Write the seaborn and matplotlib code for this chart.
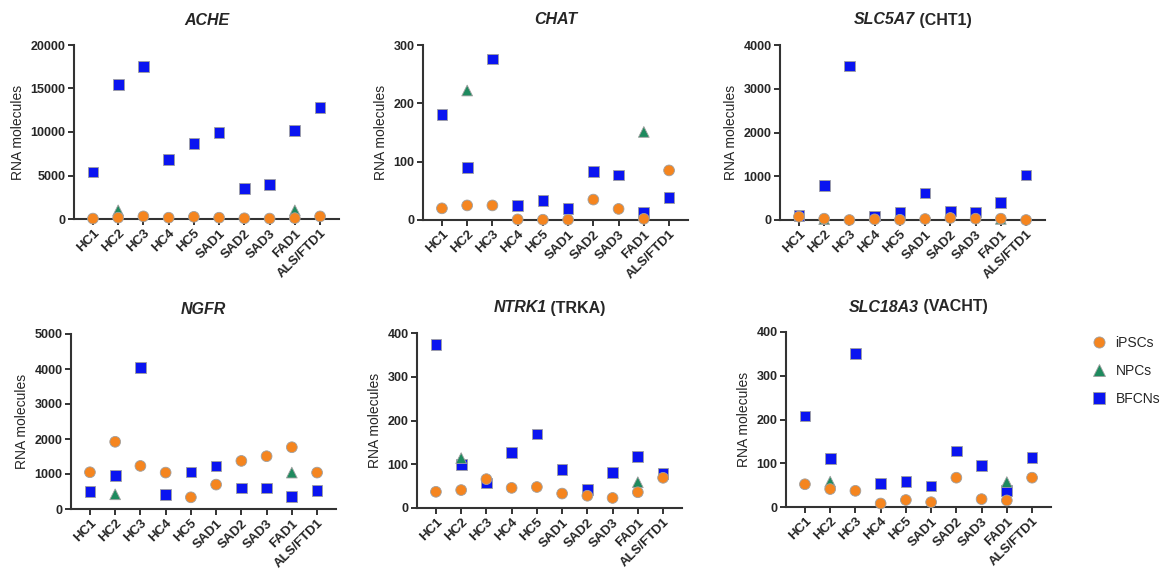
import numpy as np
import pandas as pd
import seaborn as sns
import matplotlib.pyplot as plt

lines = ['HC1', 'HC2', 'HC3', 'HC4', 'HC5', 'SAD1', 'SAD2', 'SAD3', 'FAD1', 'ALS/FTD1']
nan = np.nan

# RNA molecules per gene, one list per cell type (NPCs only measured for HC2 and FAD1)
ache_ipsc = [50, 150, 300, 150, 250, 150, 80, 50, 100, 300]
ache_npc = [nan, 1000, nan, nan, nan, nan, nan, nan, 1000, nan]
ache_bfcn = [5400, 15500, 17500, 6800, 8700, 9950, 3500, 3950, 10200, 12850]

chat_ipsc = [20, 25, 25, 1, 0.5, 0.5, 35, 19, 2, 85]
chat_npc = [nan, 222, nan, nan, nan, nan, nan, nan, 151, nan]
chat_bfcn = [181, 90, 276, 25, 34, 20, 83, 77, 13, 39]

cht1_ipsc = [76, 30, 0, 15, 5, 23, 46, 30, 30, 0]
cht1_npc = [nan, 20, nan, nan, nan, nan, nan, nan, 25, nan]
cht1_bfcn = [107, 792, 3520, 91, 168, 617, 206, 183, 404, 1029]

ngfr_ipsc = [1050, 1920, 1231, 1040, 334, 697, 1374, 1508, 1765, 1040]
ngfr_npc = [nan, 420, nan, nan, nan, nan, nan, nan, 1040, nan]
ngfr_bfcn = [496, 964, 4036, 410, 1059, 1231, 601, 601, 353, 525]

trka_ipsc = [37, 41, 66, 46, 48, 33, 28, 23, 36, 69]
trka_npc = [nan, 114, nan, nan, nan, nan, nan, nan, 59, nan]
trka_bfcn = [373, 100, 57, 126, 169, 88, 43, 82, 117, 78]

vacht_ipsc = [52, 41, 37, 8, 16, 11, 67, 18, 15, 67]
vacht_npc = [nan, 58, nan, nan, nan, nan, nan, nan, 57, nan]
vacht_bfcn = [208, 111, 350, 53, 58, 48, 128, 95, 37, 113]

panels = [
    ('ACHE', '', ache_ipsc, ache_npc, ache_bfcn, 20000, 5000),
    ('CHAT', '', chat_ipsc, chat_npc, chat_bfcn, 300, 100),
    ('SLC5A7', ' (CHT1)', cht1_ipsc, cht1_npc, cht1_bfcn, 4000, 1000),
    ('NGFR', '', ngfr_ipsc, ngfr_npc, ngfr_bfcn, 5000, 1000),
    ('NTRK1', ' (TRKA)', trka_ipsc, trka_npc, trka_bfcn, 400, 100),
    ('SLC18A3', ' (VACHT)', vacht_ipsc, vacht_npc, vacht_bfcn, 400, 100),
]

sns.set_style('ticks')
plt.rcParams['font.family'] = ['Liberation Sans', 'DejaVu Sans']

palette = {'iPSCs': '#F5851F', 'NPCs': '#1E8A5E', 'BFCNs': '#0A14F0'}
markers = {'iPSCs': 'o', 'NPCs': '^', 'BFCNs': 's'}

W, H = 1171, 577
fig = plt.figure(figsize=(W / 100, H / 100), dpi=100)

# pixel boxes: left, top, right, bottom
boxes = [(74, 45, 339, 219), (423, 45, 688, 220), (780, 45, 1045, 220),
         (71, 334, 336, 509), (417, 333, 682, 508), (786, 332, 1051, 507)]

titles = []
for (gene, extra, ip, npc, bf, ymax, step), (l, t, r, b) in zip(panels, boxes):
    ax = fig.add_axes([l / W, 1 - b / H, (r - l) / W, (b - t) / H])
    df = pd.DataFrame({
        'line': lines * 3,
        'value': bf + npc + ip,
        'cell': ['BFCNs'] * 10 + ['NPCs'] * 10 + ['iPSCs'] * 10,
    }).dropna()
    sns.scatterplot(data=df, x='line', y='value', hue='cell', style='cell',
                    palette=palette, markers=markers, s=60, edgecolor='#a0a0a0',
                    linewidth=0.6, ax=ax, legend=False, clip_on=False, zorder=3)
    ax.set_xlim(-0.75, 9.75)
    ax.set_ylim(0, ymax)
    ax.set_yticks(np.arange(0, ymax + 1, step))
    ax.set_xticks(range(len(lines)))
    ax.set_xticklabels(lines, rotation=45, ha='right', rotation_mode='anchor',
                       fontsize=9.5, fontweight='bold')
    for lab in ax.get_yticklabels():
        lab.set_fontsize(9)
        lab.set_fontweight('bold')
    ax.set_xlabel('')
    ax.set_ylabel('RNA molecules', fontsize=10, labelpad=4)
    sns.despine(ax=ax)
    for sp in ['left', 'bottom']:
        ax.spines[sp].set_linewidth(1.5)
        ax.spines[sp].set_color('#333333')
    ax.tick_params(axis='both', length=4, width=1.4, color='#333333', pad=2)
    t1 = ax.text(0.5, 1.1, gene, transform=ax.transAxes, ha='left', va='bottom',
                 fontsize=11.5, fontweight='bold', fontstyle='italic')
    t2 = ax.text(0.5, 1.1, extra, transform=ax.transAxes, ha='left', va='bottom',
                 fontsize=11.5, fontweight='bold')
    titles.append((ax, t1, t2))

# center the two-part titles (italic gene name + plain protein name)
fig.canvas.draw()
rend = fig.canvas.get_renderer()
for ax, t1, t2 in titles:
    w1 = t1.get_window_extent(rend).width
    w2 = t2.get_window_extent(rend).width if t2.get_text() else 0
    axw = ax.get_window_extent(rend).width
    x0 = 0.5 - (w1 + w2) / 2 / axw
    t1.set_x(x0)
    t2.set_x(x0 + w1 / axw)

handles = [plt.Line2D([], [], linestyle='', marker=markers[k], color=palette[k],
                      markeredgecolor='#a0a0a0', markeredgewidth=0.6, markersize=8)
           for k in ['iPSCs', 'NPCs', 'BFCNs']]
fig.legend(handles, ['iPSCs', 'NPCs', 'BFCNs'], loc='upper left',
           bbox_to_anchor=(1092 / W, 1 - 336 / H), frameon=False, fontsize=10,
           borderaxespad=0, borderpad=0, handlelength=1.0, handletextpad=0.7,
           labelspacing=1.0)

fig.savefig('out.png', dpi=100)
